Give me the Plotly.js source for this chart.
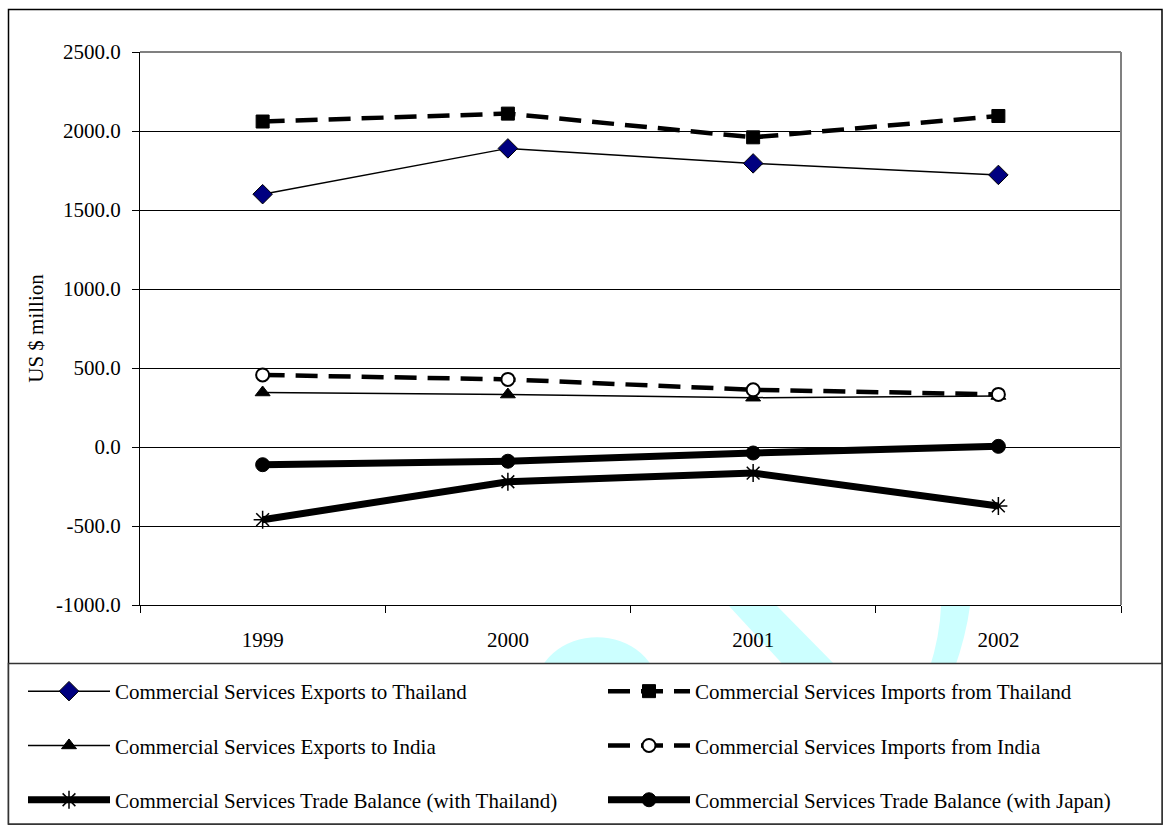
<!DOCTYPE html>
<html>
<head>
<meta charset="utf-8">
<script src="https://cdn.plot.ly/plotly-3.0.1.min.js"></script>
<style>
  html, body { margin: 0; padding: 0; background: #ffffff; }
  #chart { width: 1163px; height: 828px; }
</style>
</head>
<body>
<div id="chart"></div>
<script>
// Commercial services trade, US $ million
const years = ['1999', '2000', '2001', '2002'];
const exportsThailand = [1600, 1890, 1795, 1722];
const importsThailand = [2060, 2110, 1960, 2095];
const exportsIndia = [345, 332, 312, 323];
const importsIndia = [456, 428, 362, 333];
const balanceThailand = [-460, -220, -165, -373];
const balanceJapan = [-112, -90, -38, 4];

const yTicks = [-1000, -500, 0, 500, 1000, 1500, 2000, 2500];
const yTickLabels = ['-1000.0', '-500.0', '0.0', '500.0', '1000.0', '1500.0', '2000.0', '2500.0'];

const W = 1163, H = 828;
const M = { l: 140, r: 42, t: 52, b: 223, autoexpand: false };
const PW = W - M.l - M.r, PH = H - M.t - M.b;
// pixel position -> paper fraction
const px = v => (v - M.l) / PW;
const py = v => (H - M.b - v) / PH;

const FONT = 'Liberation Serif';
const CYAN = '#ccffff';

const traces = [
  {
    name: 'Commercial Services Exports to Thailand', x: years, y: exportsThailand,
    mode: 'lines+markers', legend: 'legend', legendgroup: 'a',
    line: { color: '#000000', width: 1.5 },
    marker: { symbol: 'diamond', size: 15, color: '#000080', line: { color: '#000000', width: 1 } }
  },
  {
    name: 'Commercial Services Imports from Thailand', x: years, y: importsThailand,
    mode: 'lines+markers', legend: 'legend2', legendgroup: 'b',
    line: { color: '#000000', width: 4.5, dash: '22px,11px' },
    marker: { symbol: 'square', size: 13, color: '#000000', line: { color: '#000000', width: 1 } }
  },
  {
    name: 'Commercial Services Exports to India', x: years, y: exportsIndia,
    mode: 'lines+markers', legend: 'legend', legendgroup: 'c',
    line: { color: '#000000', width: 1.5 },
    marker: { symbol: 'triangle-up', size: 13, color: '#000000', line: { color: '#000000', width: 1 } }
  },
  {
    name: 'Commercial Services Imports from India', x: years, y: importsIndia,
    mode: 'lines+markers', legend: 'legend2', legendgroup: 'd',
    line: { color: '#000000', width: 4.5, dash: '22px,11px' },
    marker: { symbol: 'circle', size: 13, color: '#ffffff', line: { color: '#000000', width: 2 } }
  },
  {
    name: 'Commercial Services Trade Balance (with Thailand)', x: years, y: balanceThailand,
    mode: 'lines+markers', legend: 'legend', legendgroup: 'e',
    line: { color: '#000000', width: 7 },
    marker: { symbol: 'asterisk-open', size: 15, color: '#000000', line: { color: '#000000', width: 1.5 } }
  },
  {
    name: 'Commercial Services Trade Balance (with Japan)', x: years, y: balanceJapan,
    mode: 'lines+markers', legend: 'legend2', legendgroup: 'f',
    line: { color: '#000000', width: 7 },
    marker: { symbol: 'circle', size: 14, color: '#000000', line: { color: '#000000', width: 1 } }
  }
];

const legendCommon = {
  orientation: 'v', traceorder: 'grouped', tracegroupgap: 24,
  bgcolor: 'rgba(0,0,0,0)', borderwidth: 0, itemwidth: 82,
  font: { family: FONT, size: 21, color: '#000000' },
  xanchor: 'left', yanchor: 'top', itemclick: false, itemdoubleclick: false
};

const layout = {
  width: W, height: H,
  margin: M,
  paper_bgcolor: '#ffffff', plot_bgcolor: '#ffffff',
  font: { family: FONT, size: 21, color: '#000000' },
  showlegend: true,
  legend: Object.assign({}, legendCommon, { x: px(23), y: py(671) }),
  legend2: Object.assign({}, legendCommon, { x: px(603), y: py(671) }),
  xaxis: {
    type: 'category', categoryorder: 'array', categoryarray: years,
    range: [-0.5, 3.5], tickson: 'boundaries',
    ticks: 'outside', ticklen: 7, tickcolor: '#000000', tickwidth: 1,
    showline: true, linecolor: '#000000', linewidth: 1,
    showgrid: false, zeroline: false,
    ticklabelstandoff: 16,
    tickfont: { family: FONT, size: 21, color: '#000000' }
  },
  yaxis: {
    range: [-1000, 2500], tickvals: yTicks, ticktext: yTickLabels,
    ticks: 'outside', ticklen: 7, tickcolor: '#000000', tickwidth: 1,
    showline: true, linecolor: '#000000', linewidth: 1,
    showgrid: true, gridcolor: '#000000', gridwidth: 1,
    zeroline: false, ticklabelstandoff: 7,
    tickfont: { family: FONT, size: 21, color: '#000000' },
    title: { text: 'US $ million', font: { family: FONT, size: 21, color: '#000000' }, standoff: 6 }
  },
  shapes: [
    // soft cyan background marks in the strip below the axis
    { type: 'path', xref: 'paper', yref: 'paper',
      path: `M${px(533)},${py(701)} C${px(533)},${py(616)} ${px(661)},${py(616)} ${px(661)},${py(701)} Z`,
      fillcolor: CYAN, line: { width: 0 }, layer: 'below' },
    { type: 'path', xref: 'paper', yref: 'paper',
      path: `M${px(729)},${py(606)} L${px(777)},${py(606)} L${px(840)},${py(670)} L${px(788)},${py(670)} Z`,
      fillcolor: CYAN, line: { width: 0 }, layer: 'below' },
    { type: 'path', xref: 'paper', yref: 'paper',
      path: `M${px(941)},${py(606)} L${px(970)},${py(606)} Q${px(966)},${py(636)} ${px(954)},${py(670)} L${px(929)},${py(670)} Q${px(940)},${py(636)} ${px(941)},${py(606)} Z`,
      fillcolor: CYAN, line: { width: 0 }, layer: 'below' },
    // plot area border: top and right edges
    { type: 'line', xref: 'paper', yref: 'paper', x0: 0, x1: 1, y0: 1, y1: 1,
      line: { color: '#808080', width: 2 }, layer: 'above' },
    { type: 'line', xref: 'paper', yref: 'paper', x0: 1, x1: 1, y0: 0, y1: 1,
      line: { color: '#808080', width: 2 }, layer: 'above' },
    // chart frame
    { type: 'rect', xref: 'paper', yref: 'paper', x0: px(8.5), x1: px(1162), y0: py(824), y1: py(9.5),
      line: { color: '#000000', width: 1.5 }, layer: 'below' },
    // legend frame
    { type: 'rect', xref: 'paper', yref: 'paper', x0: px(8.5), x1: px(1162), y0: py(824), y1: py(663.5),
      fillcolor: '#ffffff', line: { color: '#333333', width: 1.5 }, layer: 'below' }
  ]
};

Plotly.newPlot('chart', traces, layout, { staticPlot: true, displayModeBar: false });
</script>
</body>
</html>
